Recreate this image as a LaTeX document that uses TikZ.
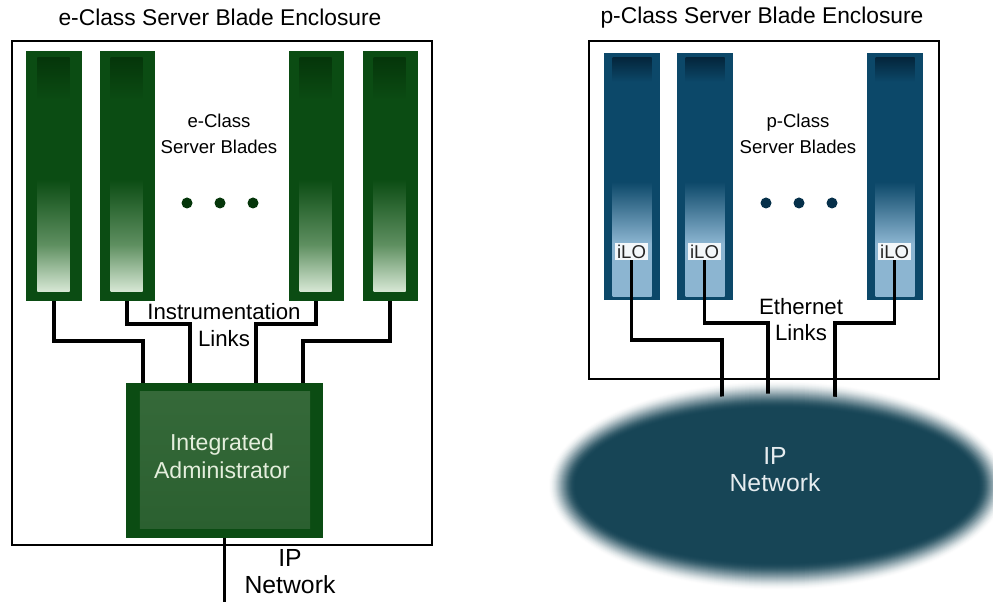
\documentclass[tikz,border=0pt]{standalone}
\usepackage{fontspec}
\setmainfont{Liberation Sans}
\usetikzlibrary{positioning, shapes.geometric}

\definecolor{egreen}{HTML}{0B4C13}
\definecolor{edark}{HTML}{05360A}
\definecolor{elight}{HTML}{D6E7D4}
\definecolor{emidl}{HTML}{5E8F60}
\definecolor{pblue}{HTML}{0C4869}
\definecolor{pdark}{HTML}{04263C}
\definecolor{plight}{HTML}{8CB5D1}
\definecolor{netc}{HTML}{174556}
\definecolor{admhi}{HTML}{356939}
\definecolor{admmid}{HTML}{184C1F}
\definecolor{admlo}{HTML}{2B6030}
\definecolor{admfont}{HTML}{E4EEDC}
\definecolor{netfont}{HTML}{E6ECEF}

\pgfdeclareverticalshading{eshade}{100bp}{color(0bp)=(elight); color(25bp)=(elight); color(35bp)=(emidl); color(49bp)=(egreen); color(66bp)=(egreen); color(75bp)=(edark); color(100bp)=(edark)}
\pgfdeclareverticalshading{pshade}{100bp}{color(0bp)=(plight); color(25bp)=(plight); color(36bp)=(plight); color(49bp)=(pblue); color(70bp)=(pblue); color(75bp)=(pdark); color(100bp)=(pdark)}

\tikzset{
	enctitle/.style={font=\fontsize{16.2}{19}\selectfont},
	encl/.style={draw, line width=2pt, inner sep=0pt, outer sep=0pt},
	eblade/.style={fill=egreen, minimum width=1.375cm, minimum height=6.25cm, inner sep=0pt, outer sep=0pt},
	pblade/.style={fill=pblue, minimum width=1.4cm, minimum height=6.175cm, inner sep=0pt, outer sep=0pt},
	bladetxt/.style={align=center, font=\fontsize{13.2}{18.5}\selectfont},
	linktxt/.style={align=center, font=\fontsize{15.8}{19}\selectfont},
	bdot/.style={circle, minimum size=0.275cm, inner sep=0pt},
	admin/.style={fill=egreen, minimum width=4.925cm, minimum height=3.875cm, inner sep=0pt, outer sep=0pt},
	admtxt/.style={align=center, text=admfont, font=\fontsize{16.4}{20}\selectfont},
	nettxt/.style={align=center, font=\fontsize{17.6}{19.3}\selectfont},
	ilo/.style={fill=white, fill opacity=0.9, text opacity=1, text=black!85, inner xsep=1.5pt, inner ysep=1pt, font=\fontsize{13.2}{14}\selectfont},
	netcore/.style={ellipse, minimum width=10.75cm, minimum height=4.575cm, inner sep=0pt},
	wire/.style={line width=2.3pt}
}

\begin{document}
\begin{tikzpicture}[x=0.025cm, y=-0.025cm, node distance=0.45cm]
	\useasboundingbox (0,0) rectangle (993,602);
	
	\node[enctitle] (etitle) at (220,17) {e-Class Server Blade Enclosure};
	\node[encl, minimum width=10.5cm, minimum height=12.6cm] (eencl) at (222,293) {};
	\node[eblade] (e1) at (54,176) {};
	\node[eblade, right=0.45cm of e1] (e2) {};
	\node[eblade, right=3.35cm of e2] (e3) {};
	\node[eblade, right=0.475cm of e3] (e4) {};
	\foreach \b in {e1,e2,e3,e4}
		\shade[shading=eshade] ([shift={(11,-10)}]\b.south west) rectangle ([shift={(-12,7)}]\b.north east);
	\node[bladetxt] (elabel) at (219,134) {e-Class\\Server Blades};
	\foreach \x/\n in {187/ed1,220/ed2,253/ed3}
		\node[bdot, fill=edark] (\n) at (\x,203) {};
	
	\node[admin] (adm) at (224.5,460.5) {};
	\shade[top color=admhi, middle color=admmid, bottom color=admlo] ([shift={(14,-10)}]adm.south west) rectangle ([shift={(-13,9)}]adm.north east);
	\node[admtxt] (admlabel) at (222,456) {Integrated\\Administrator};
	\node[linktxt] (elinks) at (224,325) {Instrumentation\\Links};
	
	\draw[wire] (e1.south) -- ++(0,40) -| ([xshift=0.425cm]adm.north west);
	\draw[wire] (e2.south) -- ++(0,23) -| ([xshift=1.6cm]adm.north west);
	\draw[wire] (e3.south) -- ++(0,23) -| ([xshift=-1.675cm]adm.north east);
	\draw[wire] (e4.south) -- ++(0,40) -| ([xshift=-0.5cm]adm.north east);
	\coordinate[below=1.6cm of adm.south] (enet);
	\draw[wire] (adm.south) -- (enet);
	\node[nettxt] (enetlabel) at (290,572) {IP\\Network};
	
	\node[enctitle] (ptitle) at (762,18) {p-Class Server Blade Enclosure};
	\node[encl, minimum width=8.75cm, minimum height=8.45cm] (pencl) at (764,210) {};
	\node[pblade] (p1) at (631.5,176.5) {};
	\node[pblade, right=0.425cm of p1] (p2) {};
	\node[pblade, right=3.35cm of p2] (p3) {};
	\foreach \b in {p1,p2,p3}
		\shade[shading=pshade] ([shift={(9,-4)}]\b.south west) rectangle ([shift={(-8,5)}]\b.north east);
	\foreach \b/\n in {p1/i1,p2/i2,p3/i3}
		\node[ilo, above=1cm of \b.south] (\n) {iLO};
	\node[bladetxt] (plabel) at (798,134) {p-Class\\Server Blades};
	\foreach \x/\n in {766/pd1,799/pd2,832/pd3}
		\node[bdot, fill=pdark!70!pblue] (\n) at (\x,203) {};
	\node[linktxt] (plinks) at (801,319.5) {Ethernet\\Links};
	
	\node[netcore] (ipnet) at (777,485.5) {};
	\coordinate (n1) at ([shift={(-55,-63.5)}]ipnet.center);
	\coordinate (n2) at ([shift={(-9,-63.5)}]ipnet.center);
	\coordinate (n3) at ([shift={(58,-63.5)}]ipnet.center);
	\foreach \k [evaluate=\k as \pc using int(100*(3*(\k/28)^2-2*(\k/28)^3))] in {1,...,13}
		\fill[netc!\pc!white] (ipnet.center) ellipse [x radius={(230-\k)*0.025cm}, y radius={(106-\k)*0.025cm}];
	\draw[wire] (i1.south) -- ++(0,80) -| (n1);
	\draw[wire] (i2.south) -- ++(0,63) -| (n2);
	\draw[wire] (i3.south) -- ++(0,63) -| (n3);
	\foreach \k [evaluate=\k as \pc using int(100*(3*(\k/28)^2-2*(\k/28)^3))] in {14,...,28}
		\fill[netc!\pc!white] (ipnet.center) ellipse [x radius={(230-\k)*0.025cm}, y radius={(106-\k)*0.025cm}];
	\node[nettxt, text=netfont] (ipnetlabel) at ([shift={(-2,-15.5)}]ipnet.center) {IP\\Network};
\end{tikzpicture}
\end{document}
